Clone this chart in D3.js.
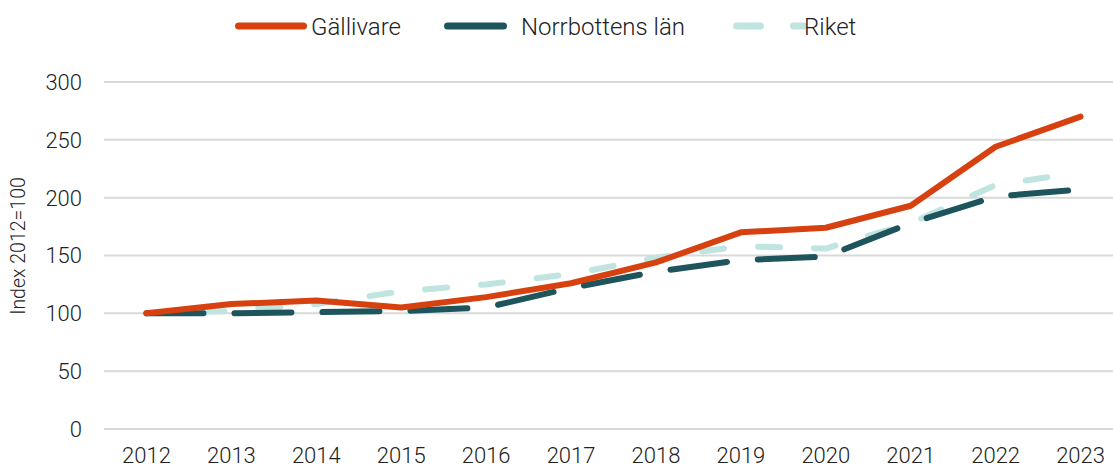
<!DOCTYPE html>
<html>
<head>
<meta charset="utf-8">
<script src="https://cdn.jsdelivr.net/npm/d3@7"></script>
<style>
  body { margin: 0; background: white; }
  text { font-family: Roboto, "Open Sans", sans-serif; font-weight: 300; fill: #222; }
</style>
</head>
<body>
<script>
const years = ['2012', '2013', '2014', '2015', '2016', '2017', '2018', '2019', '2020', '2021', '2022', '2023'];
const gallivare = [100, 108, 111, 105, 114, 126, 144, 170, 174, 193, 244, 270];
const norrbotten = [100, 100, 101, 102, 105, 122, 136, 146, 149, 178, 201, 207];
const riket = [100, 102, 108, 119, 125, 134, 148, 158, 156, 178, 211, 222];
const yTicks = [0, 50, 100, 150, 200, 250, 300];

const w = 1113, h = 468;
const m = { left: 104, right: -10, top: 82, bottom: 39 };

const svg = d3.select('body').append('svg')
  .attr('width', w)
  .attr('height', h)

const x = d3.scaleBand()
  .domain(years)
  .range([m.left, w - m.right])

const y = d3.scaleLinear()
  .domain([0, 300])
  .range([h - m.bottom, m.top])

// gridlines
svg.append('g')
  .selectAll('line')
  .data(yTicks)
  .enter()
  .append('line')
  .attr('x1', m.left)
  .attr('x2', w)
  .attr('y1', d => y(d))
  .attr('y2', d => y(d))
  .style('stroke', '#d9d9d9')
  .style('stroke-width', 2)

// y axis labels
svg.append('g')
  .selectAll('text')
  .data(yTicks)
  .enter()
  .append('text')
  .attr('x', 82)
  .attr('y', d => y(d))
  .attr('dy', '0.36em')
  .attr('text-anchor', 'end')
  .style('font-size', '22px')
  .text(d => d)

// x axis labels
svg.append('g')
  .selectAll('text')
  .data(years)
  .enter()
  .append('text')
  .attr('x', d => x(d) + x.bandwidth() / 2)
  .attr('y', 463)
  .attr('text-anchor', 'middle')
  .style('font-size', '22px')
  .text(d => d)

svg.append('text')
  .attr('transform', 'translate(25, 246) rotate(-90)')
  .attr('text-anchor', 'middle')
  .style('font-size', '19.5px')
  .text('Index 2012=100')

const series = [
  { name: 'Gällivare', values: gallivare, color: '#d7410f', dash: null },
  { name: 'Norrbottens län', values: norrbotten, color: '#1e555d', dash: '57,31' },
  { name: 'Riket', values: riket, color: '#c0e4df', dash: '22,34' }
];

const line = d3.line()
  .x((d, i) => x(years[i]) + x.bandwidth() / 2)
  .y(d => y(d))

// riket at the bottom, gällivare on top
const order = [series[2], series[1], series[0]];
svg.append('g')
  .selectAll('path')
  .data(order)
  .enter()
  .append('path')
  .attr('d', d => line(d.values))
  .style('fill', 'none')
  .style('stroke', d => d.color)
  .style('stroke-width', 6)
  .style('stroke-linecap', 'round')
  .style('stroke-linejoin', 'round')
  .style('stroke-dasharray', d => d.dash)

// legend
const legendPos = [
  { x1: 238.5, x2: 303.5, tx: 311 },
  { x1: 447.5, x2: 503.5, tx: 521 },
  { x1: 736.5, x2: 803.5, tx: 804 }
];
const legend = svg.append('g').attr('id', 'legend')
series.forEach(function (s, i) {
  const p = legendPos[i];
  legend.append('line')
    .attr('x1', p.x1).attr('x2', p.x2)
    .attr('y1', 26).attr('y2', 26)
    .style('stroke', s.color)
    .style('stroke-width', 7)
    .style('stroke-linecap', 'round')
    .style('stroke-dasharray', i == 2 ? '24,33' : null)
  legend.append('text')
    .attr('x', p.tx)
    .attr('y', 26)
    .attr('dy', '0.36em')
    .style('font-size', '24px')
    .text(s.name)
});
</script>
</body>
</html>
